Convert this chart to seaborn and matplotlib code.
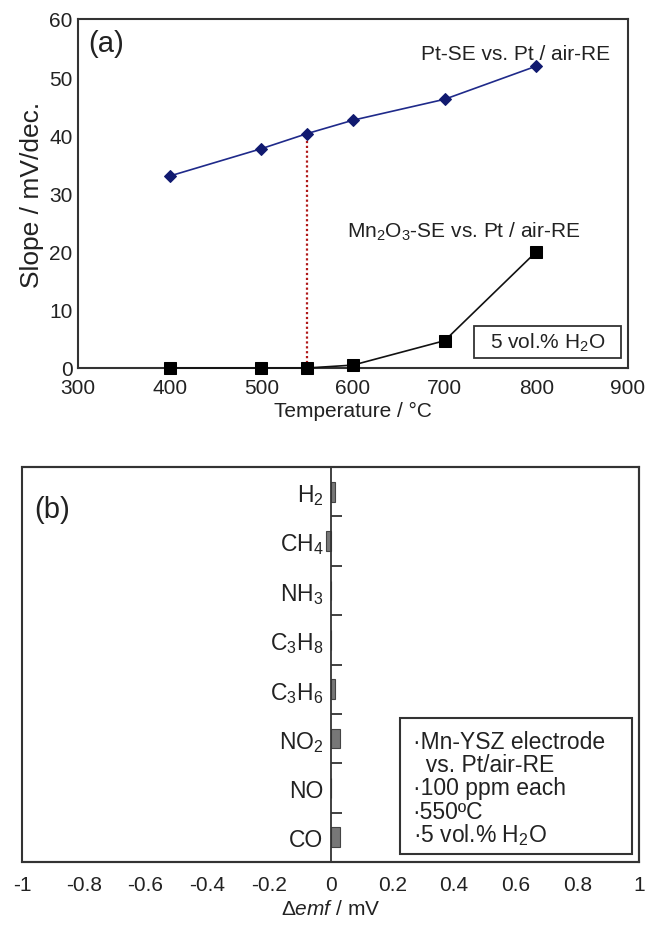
import matplotlib
matplotlib.use("Agg")
import matplotlib.pyplot as plt
from matplotlib.patches import Rectangle
import pandas as pd
import seaborn as sns

# --- data ---
temps = [400, 500, 550, 600, 700, 800]
slope_pt = [33.0, 37.7, 40.3, 42.6, 46.2, 51.9]
slope_mn = [0.0, 0.0, 0.0, 0.5, 4.7, 20.0]
mark_temp = 550

gases = ["H$_2$", "CH$_4$", "NH$_3$", "C$_3$H$_8$", "C$_3$H$_6$", "NO$_2$", "NO", "CO"]
demf = [0.016, -0.013, 0.0, 0.0, 0.016, 0.03, 0.0, 0.03]

note_lines = ["\u00b7Mn-YSZ electrode", "  vs. Pt/air-RE", "\u00b7100 ppm each",
              "\u00b7550\u00baC", "\u00b75 vol.% H$_2$O"]

sns.set_theme(style="white")
plt.rcParams["font.family"] = ["Liberation Sans", "DejaVu Sans"]
plt.rcParams["mathtext.default"] = "regular"
plt.rcParams["mathtext.fontset"] = "custom"
plt.rcParams["mathtext.it"] = "Liberation Sans:italic"
plt.rcParams["mathtext.rm"] = "Liberation Sans"

txt = "#222222"
edge = "#333333"

fig = plt.figure(figsize=(6.49, 9.29), dpi=100)
ax1 = fig.add_axes([0.1202, 0.6028, 0.8475, 0.3757])
ax2 = fig.add_axes([0.0339, 0.0710, 0.9507, 0.4252])

# --- (a) slope vs temperature ---
df_a = pd.DataFrame({"T": temps, "pt": slope_pt, "mn": slope_mn})
sns.lineplot(data=df_a, x="T", y="pt", ax=ax1, color="#1f2a8a", lw=1.2,
             marker="D", markersize=6.5, markeredgecolor="#111a70",
             markerfacecolor="#111a70")
sns.lineplot(data=df_a, x="T", y="mn", ax=ax1, color="#111111", lw=1.2,
             marker="s", markersize=8, markeredgecolor="black",
             markerfacecolor="black")
for ln in ax1.lines:
    ln.set_clip_on(False)
    ln.set_zorder(6)
y_mark = slope_pt[temps.index(mark_temp)]
ax1.vlines(mark_temp, 0, y_mark, colors="#b01818", linestyles=(0, (1, 1.2)), lw=1.6, zorder=1)

ax1.set_xlim(300, 900)
ax1.set_ylim(0, 60)
ax1.set_xticks(range(300, 901, 100))
ax1.set_yticks(range(0, 61, 10))
ax1.set_xlabel("Temperature / \u00b0C", fontsize=15, color=txt, labelpad=3)
ax1.set_ylabel("Slope / mV/dec.", fontsize=19, color=txt, labelpad=4)
ax1.tick_params(direction="in", length=4, labelsize=15, colors=txt)
ax1.tick_params(axis="x", pad=7)
ax1.tick_params(axis="y", pad=4)
ax1.text(0.018, 0.93, "(a)", transform=ax1.transAxes, fontsize=21, color=txt, va="center")
ax1.text(0.967, 0.90, "Pt-SE vs. Pt / air-RE", transform=ax1.transAxes,
         fontsize=15, color=txt, ha="right", va="center")
ax1.text(0.913, 0.36, "Mn$_2$O$_3$-SE vs. Pt / air-RE", transform=ax1.transAxes,
         fontsize=15, color=txt, ha="right", va="bottom")
ax1.add_patch(Rectangle((0.72, 0.029), 0.267, 0.091, transform=ax1.transAxes,
                        fc="white", ec=edge, lw=1.3, zorder=4))
ax1.text(0.8535, 0.074, "5 vol.% H$_2$O", transform=ax1.transAxes, fontsize=15,
         color=txt, ha="center", va="center", zorder=5)
for s in ax1.spines.values():
    s.set_color(edge)
    s.set_linewidth(1.5)

# --- (b) delta emf per gas ---
df_b = pd.DataFrame({"gas": gases, "demf": demf})
sns.barplot(data=df_b, x="demf", y="gas", ax=ax2, orient="h", width=0.4,
            color="#777777", edgecolor="#444444", linewidth=0.8, saturation=1)
ax2.set_xlim(-1, 1)
ax2.set_ylim(len(gases) - 0.5, -0.5)
ax2.set_xticks([-1, -0.8, -0.6, -0.4, -0.2, 0, 0.2, 0.4, 0.6, 0.8, 1])
ax2.set_xticklabels(["-1", "-0.8", "-0.6", "-0.4", "-0.2", "0", "0.2", "0.4", "0.6", "0.8", "1"])
ax2.set_xlabel("$\\mathit{\\Delta emf}$ / mV", fontsize=15, color=txt, labelpad=4)
ax2.set_ylabel("")
ax2.tick_params(axis="x", direction="in", length=7, width=1.2, labelsize=15,
                colors=txt, pad=9)

# y axis sits at zero, gas labels to its left, boundary ticks pointing right
for k in ["top", "right", "bottom"]:
    ax2.spines[k].set_color(edge)
    ax2.spines[k].set_linewidth(1.5)
ax2.spines["left"].set_position(("data", 0))
ax2.spines["left"].set_color(edge)
ax2.spines["left"].set_linewidth(1.3)
ax2.add_patch(Rectangle((0, 0), 1, 1, transform=ax2.transAxes, fill=False,
                        ec=edge, lw=1.5, zorder=5, clip_on=False))
ax2.set_yticks(range(len(gases)))
ax2.set_yticklabels(gases)
ax2.tick_params(axis="y", which="major", length=0, labelsize=16.5, colors=txt, pad=5)
ax2.set_yticks([i + 0.5 for i in range(len(gases) - 1)], minor=True)
ax2.tick_params(axis="y", which="minor", direction="in", length=8, width=1.3,
                color=edge, left=True)

ax2.text(0.02, 0.895, "(b)", transform=ax2.transAxes, fontsize=21, color=txt, va="center")
ax2.add_patch(Rectangle((0.613, 0.02), 0.376, 0.345, transform=ax2.transAxes,
                        fc="white", ec=edge, lw=1.5, zorder=4))
for i, line in enumerate(note_lines):
    ax2.text(0.633, 0.289 - i * 0.0589, line, transform=ax2.transAxes, fontsize=16.5,
             color=txt, ha="left", va="baseline", zorder=5)

fig.savefig("out.png", dpi=100)
